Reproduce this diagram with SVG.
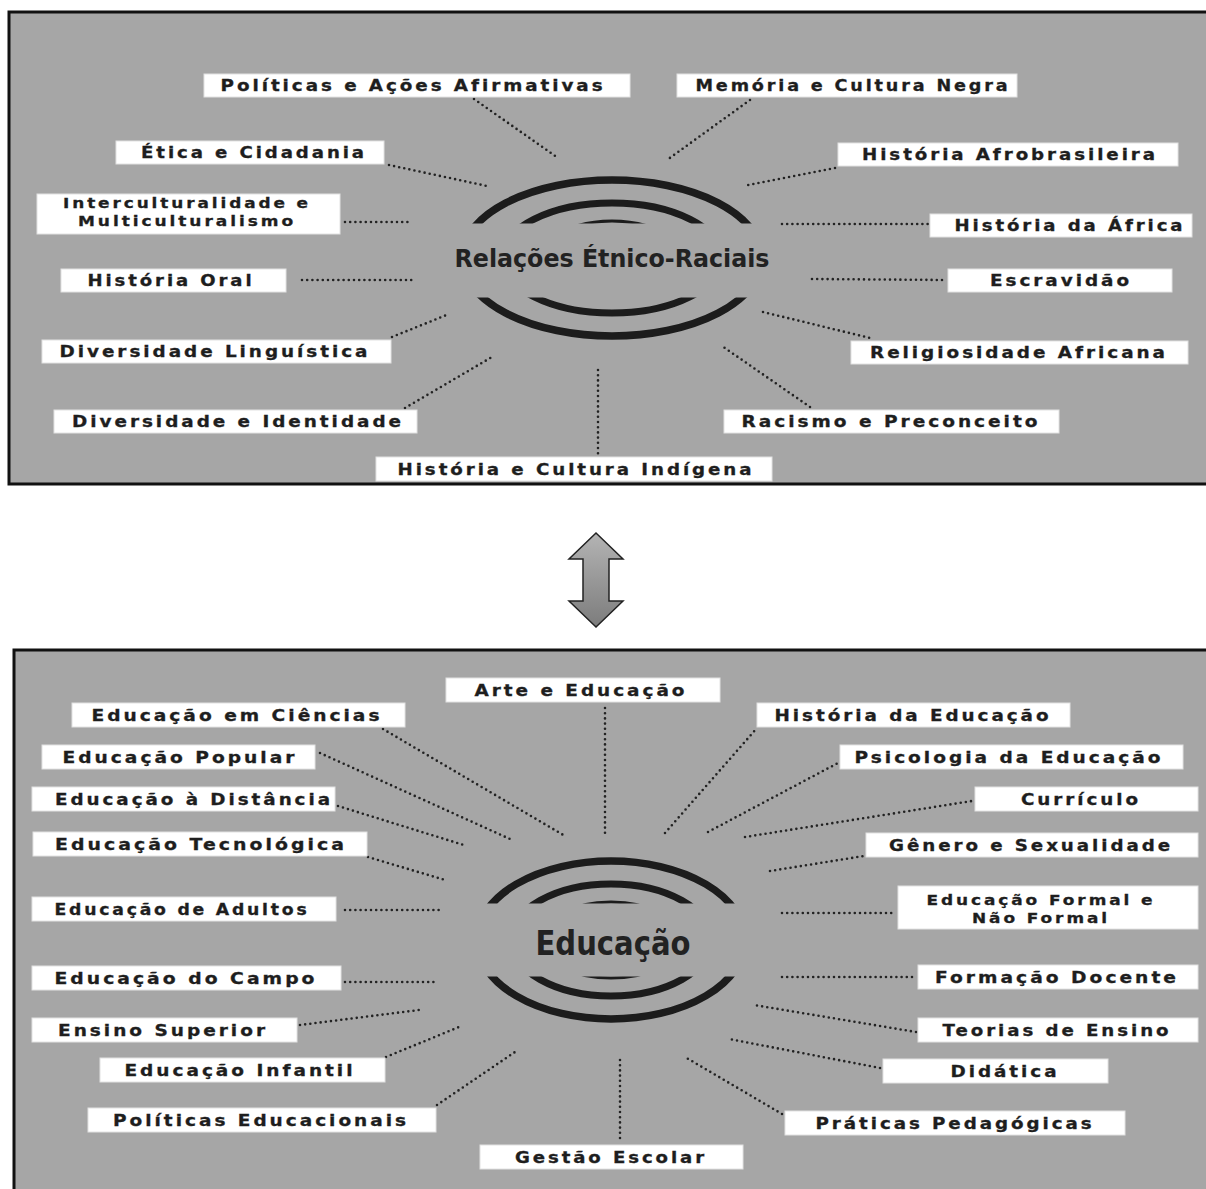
<svg xmlns="http://www.w3.org/2000/svg" width="1206" height="1189" viewBox="0 0 1206 1189">
<defs>
<style>
.panel{fill:#a6a6a6;stroke:#111;stroke-width:3}
.box{fill:#fff;stroke:#e2e2e2;stroke-width:1}
.lbl{font-family:"DejaVu Sans","Open Sans",sans-serif;font-weight:bold;font-size:15.5px;letter-spacing:2.5px;fill:#1e1e1e;stroke:#1e1e1e;stroke-width:0.3;text-anchor:middle}
.two{font-size:14.5px}
.dot{fill:none;stroke:#222;stroke-width:2.6;stroke-dasharray:0 5.2;stroke-linecap:round}
.ring{fill:none;stroke:#1c1c1c}
.ctr{font-family:"Liberation Sans Narrow","DejaVu Sans Condensed",sans-serif;font-weight:bold;fill:#222;text-anchor:middle}
</style>
<linearGradient id="ag" x1="0" y1="0" x2="0" y2="1">
<stop offset="0" stop-color="#b4b4b4"/>
<stop offset="1" stop-color="#7c7c7c"/>
</linearGradient>
<clipPath id="clipTop"><rect x="0" y="0" width="1206" height="223.5"/><rect x="0" y="297.5" width="1206" height="200"/></clipPath>
<clipPath id="clipBot"><rect x="0" y="600" width="1206" height="303.5"/><rect x="0" y="976.5" width="1206" height="220"/></clipPath>
</defs>

<g id="panel-top"><rect class="panel" x="9" y="12" width="1205" height="472"/></g>
<g id="panel-bottom"><rect class="panel" x="14" y="650" width="1205" height="560"/></g>

<g id="connectors">
<line class="dot" x1="474" y1="99" x2="558" y2="158"/>
<line class="dot" x1="750" y1="100" x2="667" y2="160"/>
<line class="dot" x1="389" y1="165" x2="487" y2="186"/>
<line class="dot" x1="835" y1="168" x2="748" y2="185"/>
<line class="dot" x1="345" y1="222" x2="410" y2="222"/>
<line class="dot" x1="782" y1="224" x2="928" y2="224"/>
<line class="dot" x1="302" y1="280" x2="413" y2="280"/>
<line class="dot" x1="812" y1="279" x2="946" y2="280"/>
<line class="dot" x1="392" y1="337" x2="449" y2="314"/>
<line class="dot" x1="763" y1="312" x2="870" y2="338"/>
<line class="dot" x1="405" y1="408" x2="492" y2="357"/>
<line class="dot" x1="810" y1="407" x2="722" y2="346"/>
<line class="dot" x1="598" y1="370" x2="598" y2="455"/>

<line class="dot" x1="605" y1="708" x2="605" y2="833"/>
<line class="dot" x1="383" y1="729" x2="565" y2="836"/>
<line class="dot" x1="320" y1="753" x2="510" y2="839"/>
<line class="dot" x1="338" y1="806" x2="467" y2="846"/>
<line class="dot" x1="368" y1="857" x2="445" y2="880"/>
<line class="dot" x1="345" y1="910" x2="443" y2="910"/>
<line class="dot" x1="345" y1="982" x2="437" y2="982"/>
<line class="dot" x1="300" y1="1025" x2="419" y2="1010"/>
<line class="dot" x1="386" y1="1057" x2="459" y2="1027"/>
<line class="dot" x1="437" y1="1105" x2="515" y2="1052"/>
<line class="dot" x1="620" y1="1060" x2="620" y2="1142"/>
<line class="dot" x1="782" y1="1114" x2="685" y2="1057"/>
<line class="dot" x1="880" y1="1068" x2="729" y2="1039"/>
<line class="dot" x1="916" y1="1032" x2="754" y2="1005"/>
<line class="dot" x1="782" y1="977" x2="916" y2="977"/>
<line class="dot" x1="782" y1="913" x2="895" y2="913"/>
<line class="dot" x1="770" y1="871" x2="864" y2="856"/>
<line class="dot" x1="745" y1="837" x2="972" y2="801"/>
<line class="dot" x1="708" y1="832" x2="838" y2="763"/>
<line class="dot" x1="665" y1="833" x2="757" y2="728"/>
</g>

<g id="hub-top">
<g clip-path="url(#clipTop)">
<ellipse class="ring" cx="612" cy="258" rx="150" ry="78" stroke-width="7.5"/>
<ellipse class="ring" cx="612" cy="258" rx="110" ry="55" stroke-width="7"/>
<ellipse class="ring" cx="612" cy="258" rx="70" ry="37" stroke-width="3"/>
</g>
<text class="ctr" x="612" y="267" font-size="24" textLength="315" lengthAdjust="spacingAndGlyphs">Relações Étnico-Raciais</text>
</g>

<g id="hub-bottom">
<g clip-path="url(#clipBot)">
<ellipse class="ring" cx="611" cy="940" rx="134" ry="79" stroke-width="7.5"/>
<ellipse class="ring" cx="611" cy="940" rx="100" ry="56" stroke-width="7"/>
<ellipse class="ring" cx="611" cy="940" rx="70" ry="38" stroke-width="3"/>
</g>
<text class="ctr" x="613" y="955" font-size="34" textLength="155" lengthAdjust="spacingAndGlyphs">Educação</text>
</g>

<g id="double-arrow">
<polygon points="596,533 623,559 609,559 609,601 623,601 596,627 569,601 583,601 583,559 569,559" fill="url(#ag)" stroke="#222" stroke-width="1.5" stroke-linejoin="miter"/>
</g>

<g id="n-politicas-acoes"><rect class="box" x="204" y="74" width="426" height="23"/><text class="lbl" x="413" y="91" textLength="385" lengthAdjust="spacingAndGlyphs">Políticas e Ações Afirmativas</text></g>
<g id="n-memoria"><rect class="box" x="677" y="74" width="340" height="23"/><text class="lbl" x="853" y="91" textLength="315" lengthAdjust="spacingAndGlyphs">Memória e Cultura Negra</text></g>
<g id="n-etica"><rect class="box" x="116" y="141" width="268" height="23"/><text class="lbl" x="254" y="158" textLength="226" lengthAdjust="spacingAndGlyphs">Ética e Cidadania</text></g>
<g id="n-afrobrasileira"><rect class="box" x="838" y="143" width="340" height="23"/><text class="lbl" x="1010" y="160" textLength="296" lengthAdjust="spacingAndGlyphs">História Afrobrasileira</text></g>
<g id="n-intercultural"><rect class="box" x="37" y="194" width="303" height="40"/><text class="lbl two" x="187" y="208" textLength="248" lengthAdjust="spacingAndGlyphs">Interculturalidade e</text><text class="lbl two" x="187" y="226" textLength="218" lengthAdjust="spacingAndGlyphs">Multiculturalismo</text></g>
<g id="n-africa"><rect class="box" x="930" y="214" width="262" height="23"/><text class="lbl" x="1070" y="231" textLength="231" lengthAdjust="spacingAndGlyphs">História da África</text></g>
<g id="n-oral"><rect class="box" x="61" y="269" width="225" height="23"/><text class="lbl" x="171" y="286" textLength="167" lengthAdjust="spacingAndGlyphs">História Oral</text></g>
<g id="n-escravidao"><rect class="box" x="948" y="269" width="224" height="23"/><text class="lbl" x="1061" y="286" textLength="142" lengthAdjust="spacingAndGlyphs">Escravidão</text></g>
<g id="n-linguistica"><rect class="box" x="42" y="340" width="349" height="23"/><text class="lbl" x="215" y="357" textLength="311" lengthAdjust="spacingAndGlyphs">Diversidade Linguística</text></g>
<g id="n-religiosidade"><rect class="box" x="851" y="341" width="337" height="23"/><text class="lbl" x="1019" y="358" textLength="298" lengthAdjust="spacingAndGlyphs">Religiosidade Africana</text></g>
<g id="n-identidade"><rect class="box" x="54" y="410" width="363" height="23"/><text class="lbl" x="238" y="427" textLength="332" lengthAdjust="spacingAndGlyphs">Diversidade e Identidade</text></g>
<g id="n-racismo"><rect class="box" x="724" y="410" width="335" height="23"/><text class="lbl" x="891" y="427" textLength="299" lengthAdjust="spacingAndGlyphs">Racismo e Preconceito</text></g>
<g id="n-indigena"><rect class="box" x="376" y="457" width="396" height="24"/><text class="lbl" x="576" y="475" textLength="357" lengthAdjust="spacingAndGlyphs">História e Cultura Indígena</text></g>

<g id="n-arte"><rect class="box" x="446" y="678" width="274" height="24"/><text class="lbl" x="581" y="696" textLength="213" lengthAdjust="spacingAndGlyphs">Arte e Educação</text></g>
<g id="n-ciencias"><rect class="box" x="72" y="703" width="333" height="24"/><text class="lbl" x="237" y="721" textLength="291" lengthAdjust="spacingAndGlyphs">Educação em Ciências</text></g>
<g id="n-hist-educacao"><rect class="box" x="757" y="703" width="313" height="24"/><text class="lbl" x="913" y="721" textLength="277" lengthAdjust="spacingAndGlyphs">História da Educação</text></g>
<g id="n-popular"><rect class="box" x="42" y="745" width="273" height="24"/><text class="lbl" x="180" y="763" textLength="235" lengthAdjust="spacingAndGlyphs">Educação Popular</text></g>
<g id="n-psicologia"><rect class="box" x="840" y="745" width="343" height="24"/><text class="lbl" x="1009" y="763" textLength="309" lengthAdjust="spacingAndGlyphs">Psicologia da Educação</text></g>
<g id="n-distancia"><rect class="box" x="32" y="787" width="303" height="24"/><text class="lbl" x="194" y="805" textLength="278" lengthAdjust="spacingAndGlyphs">Educação à Distância</text></g>
<g id="n-curriculo"><rect class="box" x="975" y="787" width="223" height="24"/><text class="lbl" x="1081" y="805" textLength="120" lengthAdjust="spacingAndGlyphs">Currículo</text></g>
<g id="n-tecnologica"><rect class="box" x="33" y="832" width="334" height="24"/><text class="lbl" x="201" y="850" textLength="292" lengthAdjust="spacingAndGlyphs">Educação Tecnológica</text></g>
<g id="n-genero"><rect class="box" x="866" y="833" width="332" height="24"/><text class="lbl" x="1031" y="851" textLength="284" lengthAdjust="spacingAndGlyphs">Gênero e Sexualidade</text></g>
<g id="n-adultos"><rect class="box" x="32" y="897" width="304" height="24"/><text class="lbl" x="182" y="915" textLength="255" lengthAdjust="spacingAndGlyphs">Educação de Adultos</text></g>
<g id="n-formal"><rect class="box" x="898" y="886" width="300" height="43"/><text class="lbl two" x="1041" y="905" textLength="229" lengthAdjust="spacingAndGlyphs">Educação Formal e</text><text class="lbl two" x="1041" y="923" textLength="138" lengthAdjust="spacingAndGlyphs">Não Formal</text></g>
<g id="n-campo"><rect class="box" x="32" y="966" width="309" height="24"/><text class="lbl" x="186" y="984" textLength="263" lengthAdjust="spacingAndGlyphs">Educação do Campo</text></g>
<g id="n-formacao"><rect class="box" x="918" y="965" width="280" height="24"/><text class="lbl" x="1057" y="983" textLength="244" lengthAdjust="spacingAndGlyphs">Formação Docente</text></g>
<g id="n-superior"><rect class="box" x="32" y="1018" width="265" height="24"/><text class="lbl" x="163" y="1036" textLength="210" lengthAdjust="spacingAndGlyphs">Ensino Superior</text></g>
<g id="n-teorias"><rect class="box" x="918" y="1018" width="280" height="24"/><text class="lbl" x="1057" y="1036" textLength="229" lengthAdjust="spacingAndGlyphs">Teorias de Ensino</text></g>
<g id="n-infantil"><rect class="box" x="100" y="1058" width="285" height="24"/><text class="lbl" x="240" y="1076" textLength="231" lengthAdjust="spacingAndGlyphs">Educação Infantil</text></g>
<g id="n-didatica"><rect class="box" x="883" y="1059" width="225" height="24"/><text class="lbl" x="1005" y="1077" textLength="109" lengthAdjust="spacingAndGlyphs">Didática</text></g>
<g id="n-pol-educacionais"><rect class="box" x="88" y="1108" width="348" height="24"/><text class="lbl" x="261" y="1126" textLength="296" lengthAdjust="spacingAndGlyphs">Políticas Educacionais</text></g>
<g id="n-praticas"><rect class="box" x="785" y="1111" width="340" height="24"/><text class="lbl" x="955" y="1129" textLength="279" lengthAdjust="spacingAndGlyphs">Práticas Pedagógicas</text></g>
<g id="n-gestao"><rect class="box" x="480" y="1145" width="263" height="24"/><text class="lbl" x="611" y="1163" textLength="192" lengthAdjust="spacingAndGlyphs">Gestão Escolar</text></g>
</svg>
